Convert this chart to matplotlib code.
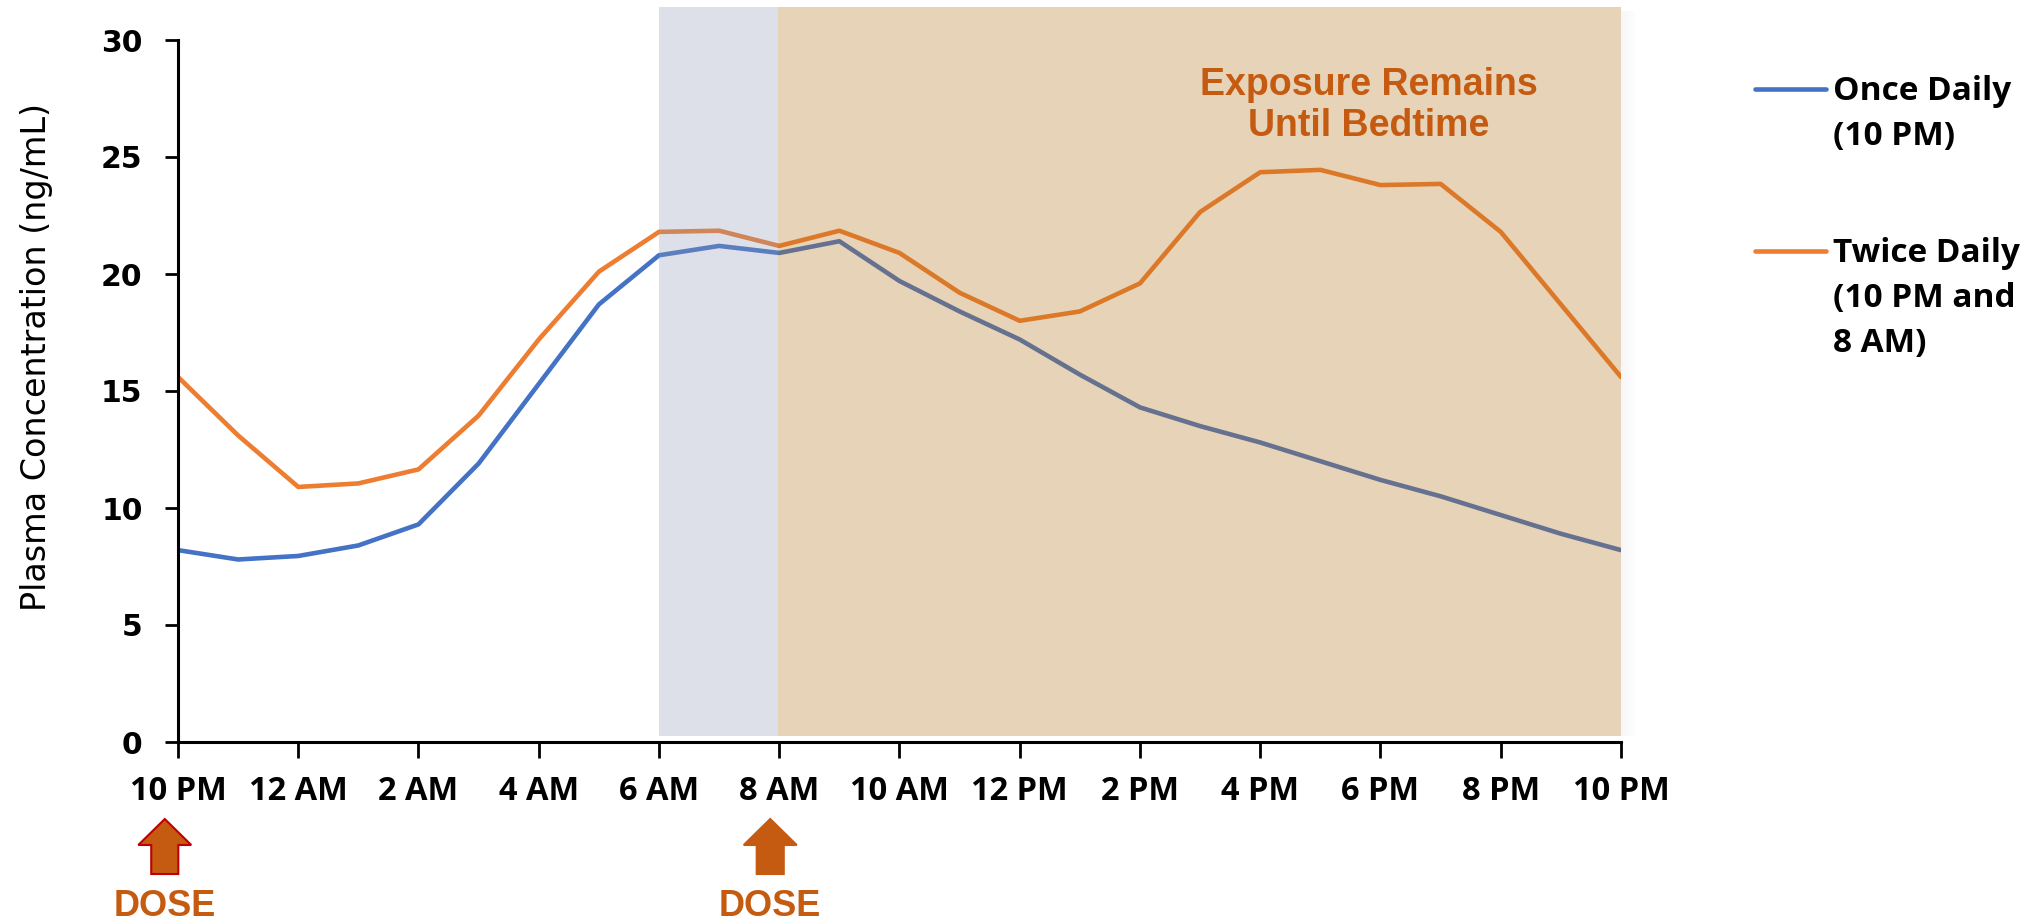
import matplotlib
matplotlib.use("Agg")
import matplotlib.pyplot as plt
from matplotlib.patches import FancyArrow, Rectangle
from matplotlib.lines import Line2D
from matplotlib.transforms import blended_transform_factory

# hours after 10 PM dose
hours = list(range(0, 25))
once_daily = [8.2, 7.8, 7.95, 8.4, 9.3, 11.9, 15.3, 18.7, 20.8, 21.2, 20.9, 21.4, 19.7,
              18.4, 17.2, 15.7, 14.3, 13.5, 12.8, 12.0, 11.2, 10.5, 9.7, 8.9, 8.2]
twice_daily = [15.6, 13.1, 10.9, 11.05, 11.65, 13.95, 17.2, 20.1, 21.8, 21.85, 21.2, 21.85, 20.9,
               19.2, 18.0, 18.4, 19.6, 22.65, 24.35, 24.45, 23.8, 23.85, 21.8, 18.7, 15.6]

tick_hours = list(range(0, 25, 2))
tick_labels = ["10 PM", "12 AM", "2 AM", "4 AM", "6 AM", "8 AM", "10 AM",
               "12 PM", "2 PM", "4 PM", "6 PM", "8 PM", "10 PM"]
y_ticks = [0, 5, 10, 15, 20, 25, 30]

series_names = ["Once Daily\n(10 PM)", "Twice Daily\n(10 PM and\n8 AM)"]
series_colors = ["#4472c4", "#ed7d31"]

dose_hours = [-0.22, 9.85]
dose_label = "DOSE"
note = "Exposure Remains\nUntil Bedtime"
accent = "#c55a11"

W, H = 2038, 924
fig = plt.figure(figsize=(W / 100, H / 100), dpi=100)
ax = fig.add_axes([178 / W, 1 - 742 / H, 1443 / W, 702 / H])

ax.plot(hours, once_daily, color=series_colors[0], lw=3.3, zorder=2, solid_capstyle="round")
ax.plot(hours, twice_daily, color=series_colors[1], lw=3.3, zorder=2, solid_capstyle="round")

# shaded windows (drawn over the lines, semi transparent)
ax.add_patch(Rectangle((8, 0.25), 1.98, 31.15, facecolor="#919bb6", alpha=0.3,
                       lw=0, zorder=3, clip_on=False))
ax.add_patch(Rectangle((9.98, 0.25), 14.02, 31.15, facecolor="#b27016", alpha=0.3,
                       lw=0, zorder=3, clip_on=False))
# soft shadow on right edge
for i in range(6):
    ax.add_patch(Rectangle((24 + i * 0.04, 0.25), 0.04, 31.0, facecolor="#888888",
                           alpha=0.07 - i * 0.011, lw=0, zorder=3, clip_on=False))

ax.set_xlim(0, 24)
ax.set_ylim(0, 30)
ax.set_xticks(tick_hours)
ax.set_xticklabels(tick_labels, fontfamily="Open Sans", fontweight="bold", fontsize=23.5)
ax.set_yticks(y_ticks)
ax.set_yticklabels([str(v) for v in y_ticks], fontfamily="DejaVu Sans", fontweight="bold", fontsize=21.5)
ax.tick_params(axis="x", length=11.5, width=2, pad=12, colors="black")
ax.tick_params(axis="y", length=9.5, width=2, pad=16, colors="black")
for s in ["top", "right"]:
    ax.spines[s].set_visible(False)
for s in ["left", "bottom"]:
    ax.spines[s].set_linewidth(2.2)
    ax.spines[s].set_zorder(5)

fig.text(37 / W, 1 - 357 / H, "Plasma Concentration (ng/mL)", rotation=90,
         ha="center", va="center", fontsize=24, fontfamily="DejaVu Sans")

ax.text(19.8, 27.2, note, ha="center", va="center", color=accent, fontsize=27,
        fontweight="bold", fontfamily="Liberation Sans", linespacing=1.15, zorder=6)

# dose arrows below the axis
tr = blended_transform_factory(ax.transData, fig.transFigure)
for i, dh in enumerate(dose_hours):
    edge = "#c00000" if i == 0 else accent
    arr = FancyArrow(dh, 1 - 874 / H, 0, (874 - 819) / H, width=0.45, head_width=0.88,
                     head_length=(845 - 819) / H, length_includes_head=True,
                     facecolor=accent, edgecolor=edge, lw=1.5, transform=tr, clip_on=False)
    fig.add_artist(arr)
    fig.text(dh, 1 - 906 / H, dose_label, transform=tr, ha="center", va="center",
             color=accent, fontsize=26, fontweight="bold", fontfamily="Liberation Sans")

# legend drawn by hand
entry_tops = [100, 262]
for name, col, base in zip(series_names, series_colors, entry_tops):
    ly = 1 - (base - 11) / H
    fig.add_artist(Line2D([1755 / W, 1826 / W], [ly, ly], color=col, lw=3.3,
                          solid_capstyle="round", transform=fig.transFigure))
    for j, line in enumerate(name.split("\n")):
        fig.text(1833 / W, 1 - (base + j * 45) / H, line, ha="left", va="baseline",
                 fontsize=24, fontweight="bold", fontfamily="Open Sans")

fig.savefig("out.png", dpi=100)
